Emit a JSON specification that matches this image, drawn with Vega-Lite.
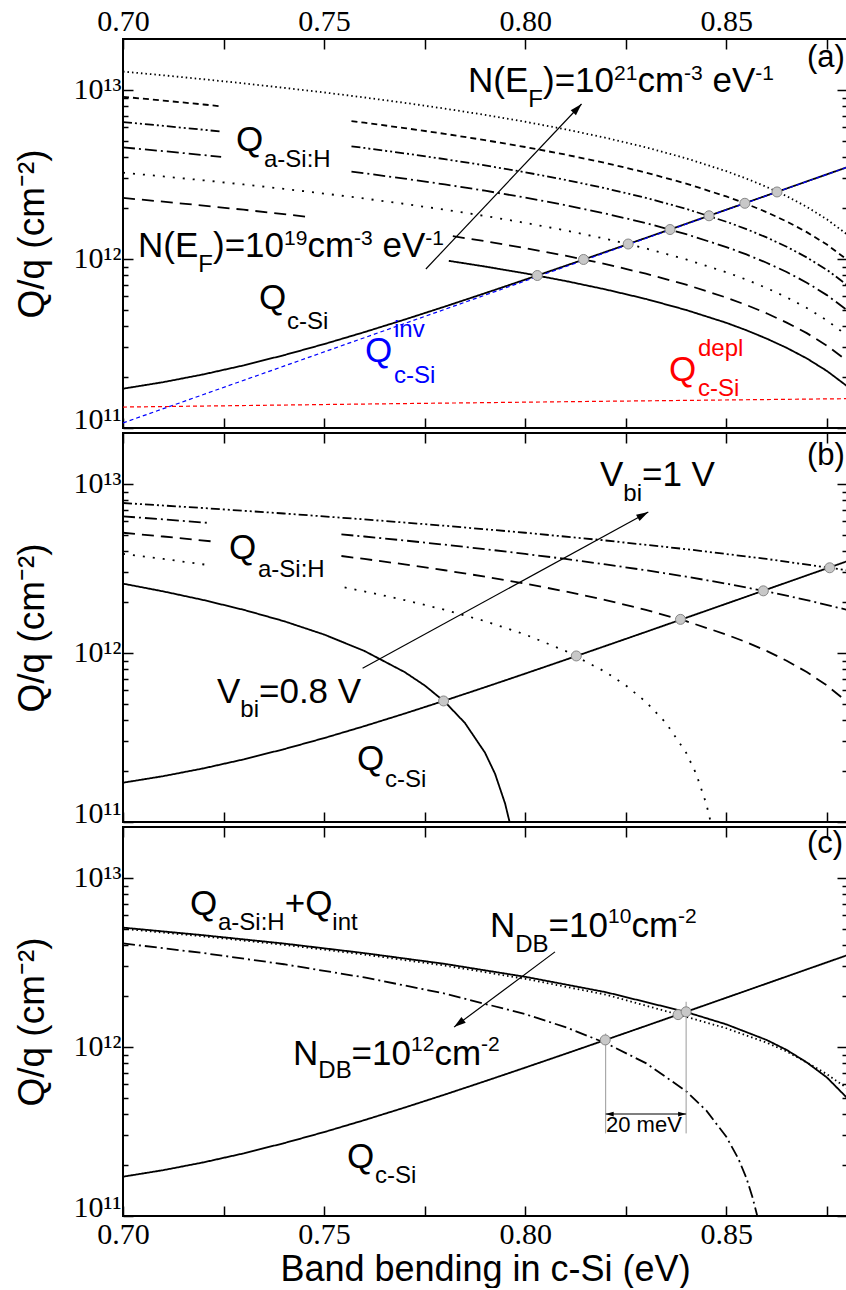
{
 "$schema": "https://vega.github.io/schema/vega-lite/v6.json",
 "padding": {"left": 12, "top": 5, "right": 0, "bottom": 0},
 "autosize": {"type": "pad"},
 "spacing": 5,
 "bounds": "flush",
 "config": {"view": {"stroke": "#000000", "strokeWidth": 2}, "font": "Liberation Sans"},
 "datasets": {
  "curves": [
   {"p":"all","g":"csi","s":"solid","x":0.70,"q":1.708e11},{"p":"all","g":"csi","s":"solid","x":0.71,"q":1.867e11},{"p":"all","g":"csi","s":"solid","x":0.72,"q":2.076e11},{"p":"all","g":"csi","s":"solid","x":0.73,"q":2.347e11},{"p":"all","g":"csi","s":"solid","x":0.74,"q":2.696e11},{"p":"all","g":"csi","s":"solid","x":0.75,"q":3.136e11},{"p":"all","g":"csi","s":"solid","x":0.76,"q":3.690e11},{"p":"all","g":"csi","s":"solid","x":0.77,"q":4.378e11},{"p":"all","g":"csi","s":"solid","x":0.78,"q":5.227e11},{"p":"all","g":"csi","s":"solid","x":0.79,"q":6.270e11},{"p":"all","g":"csi","s":"solid","x":0.80,"q":7.548e11},{"p":"all","g":"csi","s":"solid","x":0.81,"q":9.108e11},{"p":"all","g":"csi","s":"solid","x":0.82,"q":1.101e12},{"p":"all","g":"csi","s":"solid","x":0.83,"q":1.332e12},{"p":"all","g":"csi","s":"solid","x":0.84,"q":1.614e12},{"p":"all","g":"csi","s":"solid","x":0.85,"q":1.956e12},{"p":"all","g":"csi","s":"solid","x":0.86,"q":2.371e12},{"p":"all","g":"csi","s":"solid","x":0.87,"q":2.875e12},{"p":"all","g":"csi","s":"solid","x":0.88,"q":3.486e12},

   {"p":"a","g":"inv","s":"qd","c":"Qinv","x":0.70,"q":1.0715e11},{"p":"a","g":"inv","s":"qd","c":"Qinv","x":0.72,"q":1.578e11},{"p":"a","g":"inv","s":"qd","c":"Qinv","x":0.74,"q":2.323e11},{"p":"a","g":"inv","s":"qd","c":"Qinv","x":0.76,"q":3.420e11},{"p":"a","g":"inv","s":"qd","c":"Qinv","x":0.78,"q":5.035e11},{"p":"a","g":"inv","s":"qd","c":"Qinv","x":0.80,"q":7.413e11},{"p":"a","g":"inv","s":"qd","c":"Qinv","x":0.82,"q":1.0914e12},{"p":"a","g":"inv","s":"qd","c":"Qinv","x":0.84,"q":1.607e12},{"p":"a","g":"inv","s":"qd","c":"Qinv","x":0.86,"q":2.366e12},{"p":"a","g":"inv","s":"qd","c":"Qinv","x":0.88,"q":3.483e12},
   {"p":"a","g":"depl","s":"qd","c":"Qdepl","x":0.70,"q":1.330e11},{"p":"a","g":"depl","s":"qd","c":"Qdepl","x":0.76,"q":1.386e11},{"p":"a","g":"depl","s":"qd","c":"Qdepl","x":0.82,"q":1.4395e11},{"p":"a","g":"depl","s":"qd","c":"Qdepl","x":0.88,"q":1.491e11},

   {"p":"a","g":"k0","s":"solid","x":0.781,"q":9.745e11},{"p":"a","g":"k0","s":"solid","x":0.79,"q":9.02e11},{"p":"a","g":"k0","s":"solid","x":0.80,"q":8.215e11},{"p":"a","g":"k0","s":"solid","x":0.81,"q":7.41e11},{"p":"a","g":"k0","s":"solid","x":0.82,"q":6.60e11},{"p":"a","g":"k0","s":"solid","x":0.83,"q":5.80e11},{"p":"a","g":"k0","s":"solid","x":0.84,"q":4.99e11},{"p":"a","g":"k0","s":"solid","x":0.85,"q":4.19e11},{"p":"a","g":"k0","s":"solid","x":0.855,"q":3.785e11},{"p":"a","g":"k0","s":"solid","x":0.86,"q":3.38e11},{"p":"a","g":"k0","s":"solid","x":0.865,"q":2.98e11},{"p":"a","g":"k0","s":"solid","x":0.87,"q":2.58e11},{"p":"a","g":"k0","s":"solid","x":0.875,"q":2.175e11},{"p":"a","g":"k0","s":"solid","x":0.88,"q":1.77e11},

   {"p":"a","g":"k1a","s":"ldash","x":0.70,"q":2.296e12},{"p":"a","g":"k1a","s":"ldash","x":0.71,"q":2.182e12},{"p":"a","g":"k1a","s":"ldash","x":0.72,"q":2.068e12},{"p":"a","g":"k1a","s":"ldash","x":0.73,"q":1.955e12},{"p":"a","g":"k1a","s":"ldash","x":0.74,"q":1.841e12},{"p":"a","g":"k1a","s":"ldash","x":0.7458,"q":1.775e12},
   {"p":"a","g":"k1b","s":"ldash","x":0.782,"q":1.364e12},{"p":"a","g":"k1b","s":"ldash","x":0.79,"q":1.273e12},{"p":"a","g":"k1b","s":"ldash","x":0.80,"q":1.159e12},{"p":"a","g":"k1b","s":"ldash","x":0.81,"q":1.045e12},{"p":"a","g":"k1b","s":"ldash","x":0.82,"q":9.32e11},{"p":"a","g":"k1b","s":"ldash","x":0.83,"q":8.18e11},{"p":"a","g":"k1b","s":"ldash","x":0.84,"q":7.05e11},{"p":"a","g":"k1b","s":"ldash","x":0.85,"q":5.91e11},{"p":"a","g":"k1b","s":"ldash","x":0.855,"q":5.34e11},{"p":"a","g":"k1b","s":"ldash","x":0.86,"q":4.77e11},{"p":"a","g":"k1b","s":"ldash","x":0.865,"q":4.20e11},{"p":"a","g":"k1b","s":"ldash","x":0.87,"q":3.64e11},{"p":"a","g":"k1b","s":"ldash","x":0.875,"q":3.07e11},{"p":"a","g":"k1b","s":"ldash","x":0.88,"q":2.50e11},

   {"p":"a","g":"k2","s":"dot","x":0.70,"q":3.238e12},{"p":"a","g":"k2","s":"dot","x":0.71,"q":3.078e12},{"p":"a","g":"k2","s":"dot","x":0.72,"q":2.918e12},{"p":"a","g":"k2","s":"dot","x":0.73,"q":2.758e12},{"p":"a","g":"k2","s":"dot","x":0.74,"q":2.597e12},{"p":"a","g":"k2","s":"dot","x":0.75,"q":2.437e12},{"p":"a","g":"k2","s":"dot","x":0.76,"q":2.277e12},{"p":"a","g":"k2","s":"dot","x":0.77,"q":2.116e12},{"p":"a","g":"k2","s":"dot","x":0.78,"q":1.956e12},{"p":"a","g":"k2","s":"dot","x":0.79,"q":1.796e12},{"p":"a","g":"k2","s":"dot","x":0.80,"q":1.635e12},{"p":"a","g":"k2","s":"dot","x":0.81,"q":1.475e12},{"p":"a","g":"k2","s":"dot","x":0.82,"q":1.315e12},{"p":"a","g":"k2","s":"dot","x":0.83,"q":1.154e12},{"p":"a","g":"k2","s":"dot","x":0.84,"q":9.94e11},{"p":"a","g":"k2","s":"dot","x":0.85,"q":8.34e11},{"p":"a","g":"k2","s":"dot","x":0.855,"q":7.54e11},{"p":"a","g":"k2","s":"dot","x":0.86,"q":6.73e11},{"p":"a","g":"k2","s":"dot","x":0.865,"q":5.93e11},{"p":"a","g":"k2","s":"dot","x":0.87,"q":5.13e11},{"p":"a","g":"k2","s":"dot","x":0.875,"q":4.33e11},{"p":"a","g":"k2","s":"dot","x":0.88,"q":3.53e11},

   {"p":"a","g":"k3a","s":"dd","x":0.70,"q":4.569e12},{"p":"a","g":"k3a","s":"dd","x":0.71,"q":4.343e12},{"p":"a","g":"k3a","s":"dd","x":0.72,"q":4.117e12},{"p":"a","g":"k3a","s":"dd","x":0.7244,"q":4.017e12},
   {"p":"a","g":"k3b","s":"dd","x":0.7568,"q":3.284e12},{"p":"a","g":"k3b","s":"dd","x":0.76,"q":3.212e12},{"p":"a","g":"k3b","s":"dd","x":0.77,"q":2.986e12},{"p":"a","g":"k3b","s":"dd","x":0.78,"q":2.760e12},{"p":"a","g":"k3b","s":"dd","x":0.79,"q":2.533e12},{"p":"a","g":"k3b","s":"dd","x":0.80,"q":2.307e12},{"p":"a","g":"k3b","s":"dd","x":0.81,"q":2.081e12},{"p":"a","g":"k3b","s":"dd","x":0.82,"q":1.855e12},{"p":"a","g":"k3b","s":"dd","x":0.83,"q":1.629e12},{"p":"a","g":"k3b","s":"dd","x":0.84,"q":1.402e12},{"p":"a","g":"k3b","s":"dd","x":0.85,"q":1.176e12},{"p":"a","g":"k3b","s":"dd","x":0.855,"q":1.063e12},{"p":"a","g":"k3b","s":"dd","x":0.86,"q":9.50e11},{"p":"a","g":"k3b","s":"dd","x":0.865,"q":8.37e11},{"p":"a","g":"k3b","s":"dd","x":0.87,"q":7.24e11},{"p":"a","g":"k3b","s":"dd","x":0.875,"q":6.11e11},{"p":"a","g":"k3b","s":"dd","x":0.88,"q":4.98e11},

   {"p":"a","g":"k4a","s":"ddot","x":0.70,"q":6.448e12},{"p":"a","g":"k4a","s":"ddot","x":0.71,"q":6.129e12},{"p":"a","g":"k4a","s":"ddot","x":0.72,"q":5.809e12},{"p":"a","g":"k4a","s":"ddot","x":0.7244,"q":5.669e12},
   {"p":"a","g":"k4b","s":"ddot","x":0.7568,"q":4.635e12},{"p":"a","g":"k4b","s":"ddot","x":0.76,"q":4.533e12},{"p":"a","g":"k4b","s":"ddot","x":0.77,"q":4.213e12},{"p":"a","g":"k4b","s":"ddot","x":0.78,"q":3.894e12},{"p":"a","g":"k4b","s":"ddot","x":0.79,"q":3.575e12},{"p":"a","g":"k4b","s":"ddot","x":0.80,"q":3.256e12},{"p":"a","g":"k4b","s":"ddot","x":0.81,"q":2.937e12},{"p":"a","g":"k4b","s":"ddot","x":0.82,"q":2.617e12},{"p":"a","g":"k4b","s":"ddot","x":0.83,"q":2.298e12},{"p":"a","g":"k4b","s":"ddot","x":0.84,"q":1.979e12},{"p":"a","g":"k4b","s":"ddot","x":0.85,"q":1.660e12},{"p":"a","g":"k4b","s":"ddot","x":0.855,"q":1.500e12},{"p":"a","g":"k4b","s":"ddot","x":0.86,"q":1.341e12},{"p":"a","g":"k4b","s":"ddot","x":0.865,"q":1.181e12},{"p":"a","g":"k4b","s":"ddot","x":0.87,"q":1.021e12},{"p":"a","g":"k4b","s":"ddot","x":0.875,"q":8.62e11},{"p":"a","g":"k4b","s":"ddot","x":0.88,"q":7.02e11},

   {"p":"a","g":"k5a","s":"sdash","x":0.70,"q":9.098e12},{"p":"a","g":"k5a","s":"sdash","x":0.71,"q":8.648e12},{"p":"a","g":"k5a","s":"sdash","x":0.72,"q":8.197e12},{"p":"a","g":"k5a","s":"sdash","x":0.7244,"q":7.999e12},
   {"p":"a","g":"k5b","s":"sdash","x":0.7568,"q":6.540e12},{"p":"a","g":"k5b","s":"sdash","x":0.76,"q":6.396e12},{"p":"a","g":"k5b","s":"sdash","x":0.77,"q":5.945e12},{"p":"a","g":"k5b","s":"sdash","x":0.78,"q":5.495e12},{"p":"a","g":"k5b","s":"sdash","x":0.79,"q":5.044e12},{"p":"a","g":"k5b","s":"sdash","x":0.80,"q":4.594e12},{"p":"a","g":"k5b","s":"sdash","x":0.81,"q":4.144e12},{"p":"a","g":"k5b","s":"sdash","x":0.82,"q":3.693e12},{"p":"a","g":"k5b","s":"sdash","x":0.83,"q":3.243e12},{"p":"a","g":"k5b","s":"sdash","x":0.84,"q":2.792e12},{"p":"a","g":"k5b","s":"sdash","x":0.85,"q":2.342e12},{"p":"a","g":"k5b","s":"sdash","x":0.855,"q":2.117e12},{"p":"a","g":"k5b","s":"sdash","x":0.86,"q":1.892e12},{"p":"a","g":"k5b","s":"sdash","x":0.865,"q":1.666e12},{"p":"a","g":"k5b","s":"sdash","x":0.87,"q":1.441e12},{"p":"a","g":"k5b","s":"sdash","x":0.875,"q":1.216e12},{"p":"a","g":"k5b","s":"sdash","x":0.88,"q":9.91e11},

   {"p":"a","g":"k6","s":"fdot","x":0.70,"q":1.283e13},{"p":"a","g":"k6","s":"fdot","x":0.71,"q":1.220e13},{"p":"a","g":"k6","s":"fdot","x":0.72,"q":1.156e13},{"p":"a","g":"k6","s":"fdot","x":0.73,"q":1.093e13},{"p":"a","g":"k6","s":"fdot","x":0.74,"q":1.029e13},{"p":"a","g":"k6","s":"fdot","x":0.75,"q":9.657e12},{"p":"a","g":"k6","s":"fdot","x":0.76,"q":9.021e12},{"p":"a","g":"k6","s":"fdot","x":0.77,"q":8.386e12},{"p":"a","g":"k6","s":"fdot","x":0.78,"q":7.751e12},{"p":"a","g":"k6","s":"fdot","x":0.79,"q":7.115e12},{"p":"a","g":"k6","s":"fdot","x":0.80,"q":6.480e12},{"p":"a","g":"k6","s":"fdot","x":0.81,"q":5.845e12},{"p":"a","g":"k6","s":"fdot","x":0.82,"q":5.209e12},{"p":"a","g":"k6","s":"fdot","x":0.83,"q":4.574e12},{"p":"a","g":"k6","s":"fdot","x":0.84,"q":3.939e12},{"p":"a","g":"k6","s":"fdot","x":0.85,"q":3.304e12},{"p":"a","g":"k6","s":"fdot","x":0.855,"q":2.986e12},{"p":"a","g":"k6","s":"fdot","x":0.86,"q":2.668e12},{"p":"a","g":"k6","s":"fdot","x":0.865,"q":2.351e12},{"p":"a","g":"k6","s":"fdot","x":0.87,"q":2.033e12},{"p":"a","g":"k6","s":"fdot","x":0.875,"q":1.715e12},{"p":"a","g":"k6","s":"fdot","x":0.88,"q":1.398e12},

   {"p":"b","g":"v80","s":"solid","x":0.70,"q":2.570e12},{"p":"b","g":"v80","s":"solid","x":0.71,"q":2.313e12},{"p":"b","g":"v80","s":"solid","x":0.72,"q":2.056e12},{"p":"b","g":"v80","s":"solid","x":0.73,"q":1.799e12},{"p":"b","g":"v80","s":"solid","x":0.74,"q":1.542e12},{"p":"b","g":"v80","s":"solid","x":0.75,"q":1.285e12},{"p":"b","g":"v80","s":"solid","x":0.76,"q":1.028e12},{"p":"b","g":"v80","s":"solid","x":0.77,"q":7.71e11},{"p":"b","g":"v80","s":"solid","x":0.775,"q":6.425e11},{"p":"b","g":"v80","s":"solid","x":0.78,"q":5.14e11},{"p":"b","g":"v80","s":"solid","x":0.785,"q":3.855e11},{"p":"b","g":"v80","s":"solid","x":0.79,"q":2.57e11},{"p":"b","g":"v80","s":"solid","x":0.7925,"q":1.928e11},{"p":"b","g":"v80","s":"solid","x":0.795,"q":1.285e11},{"p":"b","g":"v80","s":"solid","x":0.7961,"q":1.002e11},

   {"p":"b","g":"v85a","s":"dot","x":0.70,"q":3.855e12},{"p":"b","g":"v85a","s":"dot","x":0.71,"q":3.598e12},{"p":"b","g":"v85a","s":"dot","x":0.7211,"q":3.313e12},
   {"p":"b","g":"v85b","s":"dot","x":0.7551,"q":2.439e12},{"p":"b","g":"v85b","s":"dot","x":0.76,"q":2.313e12},{"p":"b","g":"v85b","s":"dot","x":0.77,"q":2.056e12},{"p":"b","g":"v85b","s":"dot","x":0.78,"q":1.799e12},{"p":"b","g":"v85b","s":"dot","x":0.79,"q":1.542e12},{"p":"b","g":"v85b","s":"dot","x":0.80,"q":1.285e12},{"p":"b","g":"v85b","s":"dot","x":0.81,"q":1.028e12},{"p":"b","g":"v85b","s":"dot","x":0.82,"q":7.71e11},{"p":"b","g":"v85b","s":"dot","x":0.825,"q":6.425e11},{"p":"b","g":"v85b","s":"dot","x":0.83,"q":5.14e11},{"p":"b","g":"v85b","s":"dot","x":0.835,"q":3.855e11},{"p":"b","g":"v85b","s":"dot","x":0.84,"q":2.57e11},{"p":"b","g":"v85b","s":"dot","x":0.8425,"q":1.928e11},{"p":"b","g":"v85b","s":"dot","x":0.845,"q":1.285e11},{"p":"b","g":"v85b","s":"dot","x":0.8461,"q":1.002e11},

   {"p":"b","g":"v90a","s":"ldash","x":0.70,"q":5.14e12},{"p":"b","g":"v90a","s":"ldash","x":0.71,"q":4.883e12},{"p":"b","g":"v90a","s":"ldash","x":0.7228,"q":4.554e12},
   {"p":"b","g":"v90b","s":"ldash","x":0.7543,"q":3.745e12},{"p":"b","g":"v90b","s":"ldash","x":0.76,"q":3.598e12},{"p":"b","g":"v90b","s":"ldash","x":0.77,"q":3.341e12},{"p":"b","g":"v90b","s":"ldash","x":0.78,"q":3.084e12},{"p":"b","g":"v90b","s":"ldash","x":0.79,"q":2.827e12},{"p":"b","g":"v90b","s":"ldash","x":0.80,"q":2.570e12},{"p":"b","g":"v90b","s":"ldash","x":0.81,"q":2.313e12},{"p":"b","g":"v90b","s":"ldash","x":0.82,"q":2.056e12},{"p":"b","g":"v90b","s":"ldash","x":0.83,"q":1.799e12},{"p":"b","g":"v90b","s":"ldash","x":0.84,"q":1.542e12},{"p":"b","g":"v90b","s":"ldash","x":0.85,"q":1.285e12},{"p":"b","g":"v90b","s":"ldash","x":0.855,"q":1.157e12},{"p":"b","g":"v90b","s":"ldash","x":0.86,"q":1.028e12},{"p":"b","g":"v90b","s":"ldash","x":0.865,"q":8.995e11},{"p":"b","g":"v90b","s":"ldash","x":0.87,"q":7.71e11},{"p":"b","g":"v90b","s":"ldash","x":0.875,"q":6.425e11},{"p":"b","g":"v90b","s":"ldash","x":0.88,"q":5.14e11},

   {"p":"b","g":"v95a","s":"dd","x":0.70,"q":6.425e12},{"p":"b","g":"v95a","s":"dd","x":0.71,"q":6.168e12},{"p":"b","g":"v95a","s":"dd","x":0.7215,"q":5.873e12},
   {"p":"b","g":"v95b","s":"dd","x":0.7543,"q":5.027e12},{"p":"b","g":"v95b","s":"dd","x":0.76,"q":4.883e12},{"p":"b","g":"v95b","s":"dd","x":0.77,"q":4.626e12},{"p":"b","g":"v95b","s":"dd","x":0.78,"q":4.369e12},{"p":"b","g":"v95b","s":"dd","x":0.79,"q":4.112e12},{"p":"b","g":"v95b","s":"dd","x":0.80,"q":3.855e12},{"p":"b","g":"v95b","s":"dd","x":0.81,"q":3.598e12},{"p":"b","g":"v95b","s":"dd","x":0.82,"q":3.341e12},{"p":"b","g":"v95b","s":"dd","x":0.83,"q":3.084e12},{"p":"b","g":"v95b","s":"dd","x":0.84,"q":2.827e12},{"p":"b","g":"v95b","s":"dd","x":0.85,"q":2.570e12},{"p":"b","g":"v95b","s":"dd","x":0.86,"q":2.313e12},{"p":"b","g":"v95b","s":"dd","x":0.87,"q":2.056e12},{"p":"b","g":"v95b","s":"dd","x":0.88,"q":1.799e12},

   {"p":"b","g":"v100","s":"ddot","x":0.70,"q":7.71e12},{"p":"b","g":"v100","s":"ddot","x":0.72,"q":7.196e12},{"p":"b","g":"v100","s":"ddot","x":0.74,"q":6.682e12},{"p":"b","g":"v100","s":"ddot","x":0.76,"q":6.168e12},{"p":"b","g":"v100","s":"ddot","x":0.78,"q":5.654e12},{"p":"b","g":"v100","s":"ddot","x":0.80,"q":5.14e12},{"p":"b","g":"v100","s":"ddot","x":0.82,"q":4.626e12},{"p":"b","g":"v100","s":"ddot","x":0.84,"q":4.112e12},{"p":"b","g":"v100","s":"ddot","x":0.86,"q":3.598e12},{"p":"b","g":"v100","s":"ddot","x":0.88,"q":3.084e12},

   {"p":"c","g":"nd10","s":"solid","x":0.70,"q":5.08e12},{"p":"c","g":"nd10","s":"solid","x":0.72,"q":4.58e12},{"p":"c","g":"nd10","s":"solid","x":0.74,"q":4.09e12},{"p":"c","g":"nd10","s":"solid","x":0.76,"q":3.59e12},{"p":"c","g":"nd10","s":"solid","x":0.78,"q":3.10e12},{"p":"c","g":"nd10","s":"solid","x":0.80,"q":2.60e12},{"p":"c","g":"nd10","s":"solid","x":0.82,"q":2.11e12},{"p":"c","g":"nd10","s":"solid","x":0.84,"q":1.61e12},{"p":"c","g":"nd10","s":"solid","x":0.85,"q":1.36e12},{"p":"c","g":"nd10","s":"solid","x":0.86,"q":1.10e12},{"p":"c","g":"nd10","s":"solid","x":0.865,"q":9.6e11},{"p":"c","g":"nd10","s":"solid","x":0.87,"q":8.1e11},{"p":"c","g":"nd10","s":"solid","x":0.875,"q":6.6e11},{"p":"c","g":"nd10","s":"solid","x":0.88,"q":5.0e11},

   {"p":"c","g":"nd11","s":"dotc","x":0.70,"q":5.0e12},{"p":"c","g":"nd11","s":"dotc","x":0.72,"q":4.51e12},{"p":"c","g":"nd11","s":"dotc","x":0.74,"q":4.02e12},{"p":"c","g":"nd11","s":"dotc","x":0.76,"q":3.52e12},{"p":"c","g":"nd11","s":"dotc","x":0.78,"q":3.03e12},{"p":"c","g":"nd11","s":"dotc","x":0.80,"q":2.53e12},{"p":"c","g":"nd11","s":"dotc","x":0.82,"q":2.04e12},{"p":"c","g":"nd11","s":"dotc","x":0.838,"q":1.556e12},{"p":"c","g":"nd11","s":"dotc","x":0.85,"q":1.29e12},{"p":"c","g":"nd11","s":"dotc","x":0.86,"q":1.06e12},{"p":"c","g":"nd11","s":"dotc","x":0.865,"q":9.4e11},{"p":"c","g":"nd11","s":"dotc","x":0.87,"q":8.1e11},{"p":"c","g":"nd11","s":"dotc","x":0.875,"q":6.9e11},{"p":"c","g":"nd11","s":"dotc","x":0.88,"q":5.7e11},

   {"p":"c","g":"nd12","s":"dd","x":0.70,"q":4.10e12},{"p":"c","g":"nd12","s":"dd","x":0.72,"q":3.592e12},{"p":"c","g":"nd12","s":"dd","x":0.74,"q":3.085e12},{"p":"c","g":"nd12","s":"dd","x":0.76,"q":2.578e12},{"p":"c","g":"nd12","s":"dd","x":0.78,"q":2.070e12},{"p":"c","g":"nd12","s":"dd","x":0.80,"q":1.563e12},{"p":"c","g":"nd12","s":"dd","x":0.81,"q":1.309e12},{"p":"c","g":"nd12","s":"dd","x":0.82,"q":1.055e12},{"p":"c","g":"nd12","s":"dd","x":0.83,"q":8.02e11},{"p":"c","g":"nd12","s":"dd","x":0.84,"q":5.48e11},{"p":"c","g":"nd12","s":"dd","x":0.845,"q":4.21e11},{"p":"c","g":"nd12","s":"dd","x":0.85,"q":2.94e11},{"p":"c","g":"nd12","s":"dd","x":0.853,"q":2.18e11},{"p":"c","g":"nd12","s":"dd","x":0.855,"q":1.674e11},{"p":"c","g":"nd12","s":"dd","x":0.8565,"q":1.29e11},{"p":"c","g":"nd12","s":"dd","x":0.8577,"q":1.0e11}
  ],
  "dots": [
   {"p":"a","x":0.803,"q":7.98e11},{"p":"a","x":0.8145,"q":9.93e11},{"p":"a","x":0.8256,"q":1.2256e12},{"p":"a","x":0.836,"q":1.493e12},{"p":"a","x":0.8457,"q":1.80e12},{"p":"a","x":0.8546,"q":2.134e12},{"p":"a","x":0.8626,"q":2.49e12},
   {"p":"b","x":0.7797,"q":5.2e11},{"p":"b","x":0.8127,"q":9.6e11},{"p":"b","x":0.8386,"q":1.58e12},{"p":"b","x":0.8592,"q":2.33e12},{"p":"b","x":0.8757,"q":3.19e12},
   {"p":"c","x":0.8199,"q":1.10e12},{"p":"c","x":0.838,"q":1.553e12},{"p":"c","x":0.840,"q":1.614e12}
  ],
  "rules": [
   {"p":"a","id":"arr","x":0.7753,"q":8.72e11,"x2":0.8140,"q2":8.25e12},
   {"p":"b","id":"arr","x":0.75957,"q":8.11e11,"x2":0.8306,"q2":6.82e12},
   {"p":"c","id":"arr","x":0.8074,"q":3.65e12,"x2":0.7823,"q2":1.31e12},
   {"p":"c","id":"guide","x":0.82,"q":1.2e12,"x2":0.82,"q2":3.08e11},
   {"p":"c","id":"guide","x":0.84,"q":1.85e12,"x2":0.84,"q2":3.08e11},
   {"p":"c","id":"meV","x":0.82,"q":4.01e11,"x2":0.84,"q2":4.01e11}
  ],
  "heads": [
   {"p":"a","id":"arr","x":0.8140,"q":8.25e12},
   {"p":"b","id":"arr","x":0.8306,"q":6.82e12},
   {"p":"c","id":"arr","x":0.7823,"q":1.31e12},
   {"p":"c","id":"meVL","x":0.82,"q":4.01e11},
   {"p":"c","id":"meVR","x":0.84,"q":4.01e11}
  ],
  "texts": [
   {"p":"a","x":0.87006,"q":1.357e13,"t":"(a)","k":"lab","c":"plain"},
   {"p":"a","x":0.78577,"q":9.68e12,"t":"N(E","k":"main","c":"plain"},
   {"p":"a","x":0.80077,"q":7.89e12,"t":"F","k":"sub","c":"plain"},
   {"p":"a","x":0.80442,"q":9.68e12,"t":")=10","k":"main","c":"plain"},
   {"p":"a","x":0.82207,"q":1.140e13,"t":"21","k":"sup","c":"plain"},
   {"p":"a","x":0.82789,"q":9.68e12,"t":"cm","k":"main","c":"plain"},
   {"p":"a","x":0.8395,"q":1.140e13,"t":"-3","k":"sup","c":"plain"},
   {"p":"a","x":0.84657,"q":9.68e12,"t":"eV","k":"main","c":"plain"},
   {"p":"a","x":0.8572,"q":1.140e13,"t":"-1","k":"sup","c":"plain"},
   {"p":"a","x":0.70373,"q":1.0228e12,"t":"N(E","k":"main","c":"plain"},
   {"p":"a","x":0.71872,"q":8.34e11,"t":"F","k":"sub","c":"plain"},
   {"p":"a","x":0.72238,"q":1.0228e12,"t":")=10","k":"main","c":"plain"},
   {"p":"a","x":0.74003,"q":1.204e12,"t":"19","k":"sup","c":"plain"},
   {"p":"a","x":0.74585,"q":1.0228e12,"t":"cm","k":"main","c":"plain"},
   {"p":"a","x":0.75746,"q":1.204e12,"t":"-3","k":"sup","c":"plain"},
   {"p":"a","x":0.76453,"q":1.0228e12,"t":"eV","k":"main","c":"plain"},
   {"p":"a","x":0.77516,"q":1.204e12,"t":"-1","k":"sup","c":"plain"},
   {"p":"a","x":0.72809,"q":4.368e12,"t":"Q","k":"main","c":"plain"},
   {"p":"a","x":0.73506,"q":3.484e12,"t":"a-Si:H","k":"sub","c":"plain"},
   {"p":"a","x":0.73381,"q":5.057e11,"t":"Q","k":"main","c":"plain"},
   {"p":"a","x":0.74077,"q":3.852e11,"t":"c-Si","k":"sub","c":"plain"},
   {"p":"a","x":0.76017,"q":2.457e11,"t":"Q","k":"main","c":"Qinv"},
   {"p":"a","x":0.76738,"q":3.454e11,"t":"inv","k":"sub","c":"Qinv"},
   {"p":"a","x":0.76738,"q":1.846e11,"t":"c-Si","k":"sub","c":"Qinv"},
   {"p":"a","x":0.83575,"q":1.897e11,"t":"Q","k":"main","c":"Qdepl"},
   {"p":"a","x":0.84296,"q":2.667e11,"t":"depl","k":"sub","c":"Qdepl"},
   {"p":"a","x":0.84296,"q":1.547e11,"t":"c-Si","k":"sub","c":"Qdepl"},

   {"p":"b","x":0.87006,"q":1.299e13,"t":"(b)","k":"lab","c":"plain"},
   {"p":"b","x":0.81859,"q":9.72e12,"t":"V","k":"main","c":"plain"},
   {"p":"b","x":0.82439,"q":7.92e12,"t":"bi","k":"sub","c":"plain"},
   {"p":"b","x":0.82903,"q":9.72e12,"t":"=1 V","k":"main","c":"plain"},
   {"p":"b","x":0.72337,"q":5.037e11,"t":"V","k":"main","c":"plain"},
   {"p":"b","x":0.72916,"q":4.197e11,"t":"bi","k":"sub","c":"plain"},
   {"p":"b","x":0.73381,"q":5.037e11,"t":"=0.8 V","k":"main","c":"plain"},
   {"p":"b","x":0.72635,"q":3.571e12,"t":"Q","k":"main","c":"plain"},
   {"p":"b","x":0.73356,"q":2.814e12,"t":"a-Si:H","k":"sub","c":"plain"},
   {"p":"b","x":0.75818,"q":2.030e11,"t":"Q","k":"main","c":"plain"},
   {"p":"b","x":0.76514,"q":1.618e11,"t":"c-Si","k":"sub","c":"plain"},

   {"p":"c","x":0.87006,"q":1.398e13,"t":"(c)","k":"lab","c":"plain"},
   {"p":"c","x":0.71666,"q":6.034e12,"t":"Q","k":"main","c":"plain"},
   {"p":"c","x":0.72362,"q":4.918e12,"t":"a-Si:H","k":"sub","c":"plain"},
   {"p":"c","x":0.74020,"q":6.034e12,"t":"+Q","k":"main","c":"plain"},
   {"p":"c","x":0.75204,"q":4.918e12,"t":"int","k":"sub","c":"plain"},
   {"p":"c","x":0.79124,"q":4.453e12,"t":"N","k":"main","c":"plain"},
   {"p":"c","x":0.79753,"q":3.659e12,"t":"DB","k":"sub","c":"plain"},
   {"p":"c","x":0.80581,"q":4.453e12,"t":"=10","k":"main","c":"plain"},
   {"p":"c","x":0.82058,"q":5.41e12,"t":"10","k":"sup","c":"plain"},
   {"p":"c","x":0.82640,"q":4.453e12,"t":"cm","k":"main","c":"plain"},
   {"p":"c","x":0.83801,"q":5.41e12,"t":"-2","k":"sup","c":"plain"},
   {"p":"c","x":0.74227,"q":7.82e11,"t":"N","k":"main","c":"plain"},
   {"p":"c","x":0.74856,"q":6.525e11,"t":"DB","k":"sub","c":"plain"},
   {"p":"c","x":0.75683,"q":7.82e11,"t":"=10","k":"main","c":"plain"},
   {"p":"c","x":0.7716,"q":9.46e11,"t":"12","k":"sup","c":"plain"},
   {"p":"c","x":0.77742,"q":7.82e11,"t":"cm","k":"main","c":"plain"},
   {"p":"c","x":0.78903,"q":9.46e11,"t":"-2","k":"sup","c":"plain"},
   {"p":"c","x":0.75569,"q":1.915e11,"t":"Q","k":"main","c":"plain"},
   {"p":"c","x":0.76265,"q":1.561e11,"t":"c-Si","k":"sub","c":"plain"},
   {"p":"c","x":0.82008,"q":3.152e11,"t":"20 meV","k":"note","c":"plain"}
  ]
 },
 "vconcat": [
  {
   "width": 724, "height": 389,
   "resolve": {"axis": {"x": "independent", "y": "independent"}},
   "layer": [
    {
     "data": {"name": "curves"},
     "transform": [{"filter": "(datum.p == 'a' || datum.p == 'all') && datum.s != 'qd'"}],
     "mark": {"type": "line", "strokeWidth": 1.8, "color": "black"},
     "encoding": {
      "x": {"field": "x", "type": "quantitative", "scale": {"domain": [0.7, 0.88], "nice": false, "zero": false},
            "axis": {"orient": "bottom", "values": [0.7,0.725,0.75,0.775,0.8,0.825,0.85,0.875], "labels": false, "title": null, "domain": false, "grid": false, "tickSize": -10, "tickColor": "black", "tickWidth": 1.5}},
      "y": {"field": "q", "type": "quantitative", "scale": {"type": "log", "domain": [1e11, 2e13], "nice": false},
            "axis": {"orient": "left", "values": [1e11,1e12,1e13], "domain": false, "grid": false, "tickSize": -10, "tickColor": "black", "tickWidth": 1.5,
                     "labelExpr": "datum.value > 5e12 ? '10¹³' : datum.value > 5e11 ? '10¹²' : '10¹¹'", "labelFont": "Liberation Serif", "labelFontSize": 30, "labelColor": "black", "labelPadding": 12, "labelFlush": false, "labelOverlap": false,
                     "labelBaseline": {"condition": {"test": "datum.value < 2e11", "value": "alphabetic"}, "value": "middle"},
                     "title": "Q/q (cm⁻²)", "titleFont": "Liberation Sans", "titleFontSize": 37, "titleFontWeight": "normal", "titleColor": "black", "titlePadding": 22}},
      "detail": {"field": "g"},
      "strokeDash": {"field": "s", "type": "nominal", "legend": null,
                     "scale": {"domain": ["solid","fdot","sdash","ddot","dd","dot","ldash","dotc","qd"], "range": [[1,0],[1.5,3],[6,4],[9,3,2,3,2,3],[12,4,2,4],[2,8],[12,7],[1.5,3],[4,3]]}}
     }
    },
    {
     "data": {"name": "curves"},
     "transform": [{"filter": "datum.p == 'a' && datum.s == 'qd'"}],
     "mark": {"type": "line", "strokeWidth": 1.2},
     "encoding": {
      "x": {"field": "x", "type": "quantitative", "scale": {"domain": [0.7, 0.88], "nice": false, "zero": false}, "axis": null},
      "y": {"field": "q", "type": "quantitative", "scale": {"type": "log", "domain": [1e11, 2e13], "nice": false}, "axis": null},
      "detail": {"field": "g"},
      "color": {"field": "c", "type": "nominal", "legend": null, "scale": {"domain": ["plain","Qinv","Qdepl"], "range": ["#000000","#0000ff","#ff0000"]}},
      "strokeDash": {"field": "s", "type": "nominal", "legend": null,
                     "scale": {"domain": ["solid","fdot","sdash","ddot","dd","dot","ldash","dotc","qd"], "range": [[1,0],[1.5,3],[6,4],[9,3,2,3,2,3],[12,4,2,4],[2,8],[12,7],[1.5,3],[4,3]]}}
     }
    },
    {
     "data": {"name": "rules"},
     "transform": [{"filter": "datum.p == 'a'"}],
     "mark": {"type": "rule", "color": "black", "strokeWidth": 1.2},
     "encoding": {
      "x": {"field": "x", "type": "quantitative", "scale": {"domain": [0.7, 0.88], "nice": false, "zero": false}, "axis": null},
      "x2": {"field": "x2"},
      "y": {"field": "q", "type": "quantitative", "scale": {"type": "log", "domain": [1e11, 2e13], "nice": false},
            "axis": {"orient": "right", "values": [1e11,1e12,1e13], "labels": false, "title": null, "domain": false, "grid": false, "tickSize": -10, "tickColor": "black", "tickWidth": 1.5}},
      "y2": {"field": "q2"}
     }
    },
    {
     "data": {"name": "heads"},
     "transform": [{"filter": "datum.p == 'a'"}],
     "mark": {"type": "point", "shape": "M0,0L0.6,2L-0.6,2Z", "angle": 43, "size": 144, "filled": true, "color": "black", "opacity": 1},
     "encoding": {
      "x": {"field": "x", "type": "quantitative", "scale": {"domain": [0.7, 0.88], "nice": false, "zero": false}, "axis": null},
      "y": {"field": "q", "type": "quantitative", "scale": {"type": "log", "domain": [1e11, 2e13], "nice": false}, "axis": null}
     }
    },
    {
     "data": {"name": "dots"},
     "transform": [{"filter": "datum.p == 'a'"}],
     "mark": {"type": "point", "filled": true, "color": "#c8c8c8", "stroke": "#888888", "strokeWidth": 1, "size": 100, "opacity": 1},
     "encoding": {
      "x": {"field": "x", "type": "quantitative", "scale": {"domain": [0.7, 0.88], "nice": false, "zero": false},
            "axis": {"orient": "top", "values": [0.7,0.725,0.75,0.775,0.8,0.825,0.85,0.875], "title": null, "domain": false, "grid": false, "tickSize": -10, "tickColor": "black", "tickWidth": 1.5,
                     "labelExpr": "abs(datum.value*20 - round(datum.value*20)) < 0.01 ? format(datum.value, '.2f') : ''", "labelFont": "Liberation Serif", "labelFontSize": 30, "labelColor": "black", "labelPadding": 13, "labelFlush": false, "labelOverlap": false}},
      "y": {"field": "q", "type": "quantitative", "scale": {"type": "log", "domain": [1e11, 2e13], "nice": false},
            "axis": {"orient": "left", "values": [2e11,3e11,4e11,5e11,6e11,7e11,8e11,9e11,2e12,3e12,4e12,5e12,6e12,7e12,8e12,9e12], "labels": false, "title": null, "domain": false, "grid": false, "tickSize": -5, "tickColor": "black", "tickWidth": 1.5}}
     }
    },
    {
     "data": {"name": "texts"},
     "transform": [{"filter": "datum.p == 'a' && datum.k == 'main'"}],
     "mark": {"type": "text", "align": "left", "baseline": "alphabetic", "font": "Liberation Sans", "fontSize": 35},
     "encoding": {
      "x": {"field": "x", "type": "quantitative", "scale": {"domain": [0.7, 0.88], "nice": false, "zero": false}, "axis": null},
      "y": {"field": "q", "type": "quantitative", "scale": {"type": "log", "domain": [1e11, 2e13], "nice": false},
            "axis": {"orient": "right", "values": [2e11,3e11,4e11,5e11,6e11,7e11,8e11,9e11,2e12,3e12,4e12,5e12,6e12,7e12,8e12,9e12], "labels": false, "title": null, "domain": false, "grid": false, "tickSize": -5, "tickColor": "black", "tickWidth": 1.5}},
      "text": {"field": "t"},
      "color": {"field": "c", "type": "nominal", "legend": null, "scale": {"domain": ["plain","Qinv","Qdepl"], "range": ["#000000","#0000ff","#ff0000"]}}
     }
    },
    {
     "data": {"name": "texts"},
     "transform": [{"filter": "datum.p == 'a' && datum.k == 'sub'"}],
     "mark": {"type": "text", "align": "left", "baseline": "alphabetic", "font": "Liberation Sans", "fontSize": 24},
     "encoding": {
      "x": {"field": "x", "type": "quantitative", "scale": {"domain": [0.7, 0.88], "nice": false, "zero": false}, "axis": null},
      "y": {"field": "q", "type": "quantitative", "scale": {"type": "log", "domain": [1e11, 2e13], "nice": false}, "axis": null},
      "text": {"field": "t"},
      "color": {"field": "c", "type": "nominal", "legend": null, "scale": {"domain": ["plain","Qinv","Qdepl"], "range": ["#000000","#0000ff","#ff0000"]}}
     }
    },
    {
     "data": {"name": "texts"},
     "transform": [{"filter": "datum.p == 'a' && datum.k == 'sup'"}],
     "mark": {"type": "text", "align": "left", "baseline": "alphabetic", "font": "Liberation Sans", "fontSize": 21, "color": "black"},
     "encoding": {
      "x": {"field": "x", "type": "quantitative", "scale": {"domain": [0.7, 0.88], "nice": false, "zero": false}, "axis": null},
      "y": {"field": "q", "type": "quantitative", "scale": {"type": "log", "domain": [1e11, 2e13], "nice": false}, "axis": null},
      "text": {"field": "t"}
     }
    },
    {
     "data": {"name": "texts"},
     "transform": [{"filter": "datum.p == 'a' && datum.k == 'lab'"}],
     "mark": {"type": "text", "align": "left", "baseline": "alphabetic", "font": "Liberation Sans", "fontSize": 31, "color": "black"},
     "encoding": {
      "x": {"field": "x", "type": "quantitative", "scale": {"domain": [0.7, 0.88], "nice": false, "zero": false}, "axis": null},
      "y": {"field": "q", "type": "quantitative", "scale": {"type": "log", "domain": [1e11, 2e13], "nice": false}, "axis": null},
      "text": {"field": "t"}
     }
    }
   ]
  },
  {
   "width": 724, "height": 389,
   "resolve": {"axis": {"x": "independent", "y": "independent"}},
   "layer": [
    {
     "data": {"name": "curves"},
     "transform": [{"filter": "(datum.p == 'b' || datum.p == 'all') && datum.s != 'qd'"}],
     "mark": {"type": "line", "strokeWidth": 1.8, "color": "black"},
     "encoding": {
      "x": {"field": "x", "type": "quantitative", "scale": {"domain": [0.7, 0.88], "nice": false, "zero": false},
            "axis": {"orient": "bottom", "values": [0.7,0.725,0.75,0.775,0.8,0.825,0.85,0.875], "labels": false, "title": null, "domain": false, "grid": false, "tickSize": -10, "tickColor": "black", "tickWidth": 1.5}},
      "y": {"field": "q", "type": "quantitative", "scale": {"type": "log", "domain": [1e11, 2e13], "nice": false},
            "axis": {"orient": "left", "values": [1e11,1e12,1e13], "domain": false, "grid": false, "tickSize": -10, "tickColor": "black", "tickWidth": 1.5,
                     "labelExpr": "datum.value > 5e12 ? '10¹³' : datum.value > 5e11 ? '10¹²' : '10¹¹'", "labelFont": "Liberation Serif", "labelFontSize": 30, "labelColor": "black", "labelPadding": 12, "labelFlush": false, "labelOverlap": false,
                     "labelBaseline": {"condition": {"test": "datum.value < 2e11", "value": "alphabetic"}, "value": "middle"},
                     "title": "Q/q (cm⁻²)", "titleFont": "Liberation Sans", "titleFontSize": 37, "titleFontWeight": "normal", "titleColor": "black", "titlePadding": 22}},
      "detail": {"field": "g"},
      "strokeDash": {"field": "s", "type": "nominal", "legend": null,
                     "scale": {"domain": ["solid","fdot","sdash","ddot","dd","dot","ldash","dotc","qd"], "range": [[1,0],[1.5,3],[6,4],[9,3,2,3,2,3],[12,4,2,4],[2,8],[12,7],[1.5,3],[4,3]]}}
     }
    },
    {
     "data": {"name": "rules"},
     "transform": [{"filter": "datum.p == 'b'"}],
     "mark": {"type": "rule", "color": "black", "strokeWidth": 1.2},
     "encoding": {
      "x": {"field": "x", "type": "quantitative", "scale": {"domain": [0.7, 0.88], "nice": false, "zero": false}, "axis": null},
      "x2": {"field": "x2"},
      "y": {"field": "q", "type": "quantitative", "scale": {"type": "log", "domain": [1e11, 2e13], "nice": false},
            "axis": {"orient": "right", "values": [1e11,1e12,1e13], "labels": false, "title": null, "domain": false, "grid": false, "tickSize": -10, "tickColor": "black", "tickWidth": 1.5}},
      "y2": {"field": "q2"}
     }
    },
    {
     "data": {"name": "heads"},
     "transform": [{"filter": "datum.p == 'b'"}],
     "mark": {"type": "point", "shape": "M0,0L0.6,2L-0.6,2Z", "angle": 61, "size": 144, "filled": true, "color": "black", "opacity": 1},
     "encoding": {
      "x": {"field": "x", "type": "quantitative", "scale": {"domain": [0.7, 0.88], "nice": false, "zero": false}, "axis": null},
      "y": {"field": "q", "type": "quantitative", "scale": {"type": "log", "domain": [1e11, 2e13], "nice": false}, "axis": null}
     }
    },
    {
     "data": {"name": "dots"},
     "transform": [{"filter": "datum.p == 'b'"}],
     "mark": {"type": "point", "filled": true, "color": "#c8c8c8", "stroke": "#888888", "strokeWidth": 1, "size": 100, "opacity": 1},
     "encoding": {
      "x": {"field": "x", "type": "quantitative", "scale": {"domain": [0.7, 0.88], "nice": false, "zero": false},
            "axis": {"orient": "top", "values": [0.7,0.725,0.75,0.775,0.8,0.825,0.85,0.875], "labels": false, "title": null, "domain": false, "grid": false, "tickSize": -10, "tickColor": "black", "tickWidth": 1.5}},
      "y": {"field": "q", "type": "quantitative", "scale": {"type": "log", "domain": [1e11, 2e13], "nice": false},
            "axis": {"orient": "left", "values": [2e11,3e11,4e11,5e11,6e11,7e11,8e11,9e11,2e12,3e12,4e12,5e12,6e12,7e12,8e12,9e12], "labels": false, "title": null, "domain": false, "grid": false, "tickSize": -5, "tickColor": "black", "tickWidth": 1.5}}
     }
    },
    {
     "data": {"name": "texts"},
     "transform": [{"filter": "datum.p == 'b' && datum.k == 'main'"}],
     "mark": {"type": "text", "align": "left", "baseline": "alphabetic", "font": "Liberation Sans", "fontSize": 35, "color": "black"},
     "encoding": {
      "x": {"field": "x", "type": "quantitative", "scale": {"domain": [0.7, 0.88], "nice": false, "zero": false}, "axis": null},
      "y": {"field": "q", "type": "quantitative", "scale": {"type": "log", "domain": [1e11, 2e13], "nice": false},
            "axis": {"orient": "right", "values": [2e11,3e11,4e11,5e11,6e11,7e11,8e11,9e11,2e12,3e12,4e12,5e12,6e12,7e12,8e12,9e12], "labels": false, "title": null, "domain": false, "grid": false, "tickSize": -5, "tickColor": "black", "tickWidth": 1.5}},
      "text": {"field": "t"}
     }
    },
    {
     "data": {"name": "texts"},
     "transform": [{"filter": "datum.p == 'b' && datum.k == 'sub'"}],
     "mark": {"type": "text", "align": "left", "baseline": "alphabetic", "font": "Liberation Sans", "fontSize": 24, "color": "black"},
     "encoding": {
      "x": {"field": "x", "type": "quantitative", "scale": {"domain": [0.7, 0.88], "nice": false, "zero": false}, "axis": null},
      "y": {"field": "q", "type": "quantitative", "scale": {"type": "log", "domain": [1e11, 2e13], "nice": false}, "axis": null},
      "text": {"field": "t"}
     }
    },
    {
     "data": {"name": "texts"},
     "transform": [{"filter": "datum.p == 'b' && datum.k == 'lab'"}],
     "mark": {"type": "text", "align": "left", "baseline": "alphabetic", "font": "Liberation Sans", "fontSize": 31, "color": "black"},
     "encoding": {
      "x": {"field": "x", "type": "quantitative", "scale": {"domain": [0.7, 0.88], "nice": false, "zero": false}, "axis": null},
      "y": {"field": "q", "type": "quantitative", "scale": {"type": "log", "domain": [1e11, 2e13], "nice": false}, "axis": null},
      "text": {"field": "t"}
     }
    }
   ]
  },
  {
   "width": 724, "height": 389,
   "resolve": {"axis": {"x": "independent", "y": "independent"}},
   "layer": [
    {
     "data": {"name": "curves"},
     "transform": [{"filter": "(datum.p == 'c' || datum.p == 'all') && datum.s != 'qd'"}],
     "mark": {"type": "line", "strokeWidth": 1.8, "color": "black"},
     "encoding": {
      "x": {"field": "x", "type": "quantitative", "scale": {"domain": [0.7, 0.88], "nice": false, "zero": false},
            "axis": {"orient": "bottom", "values": [0.7,0.725,0.75,0.775,0.8,0.825,0.85,0.875], "domain": false, "grid": false, "tickSize": -10, "tickColor": "black", "tickWidth": 1.5,
                     "labelExpr": "abs(datum.value*20 - round(datum.value*20)) < 0.01 ? format(datum.value, '.2f') : ''", "labelFont": "Liberation Serif", "labelFontSize": 30, "labelColor": "black", "labelPadding": 13, "labelFlush": false, "labelOverlap": false,
                     "title": "Band bending in c-Si (eV)", "titleFont": "Liberation Sans", "titleFontSize": 36, "titleFontWeight": "normal", "titleColor": "black", "titlePadding": 3}},
      "y": {"field": "q", "type": "quantitative", "scale": {"type": "log", "domain": [1e11, 2e13], "nice": false},
            "axis": {"orient": "left", "values": [1e11,1e12,1e13], "domain": false, "grid": false, "tickSize": -10, "tickColor": "black", "tickWidth": 1.5,
                     "labelExpr": "datum.value > 5e12 ? '10¹³' : datum.value > 5e11 ? '10¹²' : '10¹¹'", "labelFont": "Liberation Serif", "labelFontSize": 30, "labelColor": "black", "labelPadding": 12, "labelFlush": false, "labelOverlap": false,
                     "labelBaseline": {"condition": {"test": "datum.value < 2e11", "value": "alphabetic"}, "value": "middle"},
                     "title": "Q/q (cm⁻²)", "titleFont": "Liberation Sans", "titleFontSize": 37, "titleFontWeight": "normal", "titleColor": "black", "titlePadding": 22}},
      "detail": {"field": "g"},
      "strokeDash": {"field": "s", "type": "nominal", "legend": null,
                     "scale": {"domain": ["solid","fdot","sdash","ddot","dd","dot","ldash","dotc","qd"], "range": [[1,0],[1.5,3],[6,4],[9,3,2,3,2,3],[12,4,2,4],[2,8],[12,7],[1.5,3],[4,3]]}}
     }
    },
    {
     "data": {"name": "rules"},
     "transform": [{"filter": "datum.p == 'c' && datum.id == 'arr'"}],
     "mark": {"type": "rule", "color": "black", "strokeWidth": 1.2},
     "encoding": {
      "x": {"field": "x", "type": "quantitative", "scale": {"domain": [0.7, 0.88], "nice": false, "zero": false}, "axis": null},
      "x2": {"field": "x2"},
      "y": {"field": "q", "type": "quantitative", "scale": {"type": "log", "domain": [1e11, 2e13], "nice": false},
            "axis": {"orient": "right", "values": [1e11,1e12,1e13], "labels": false, "title": null, "domain": false, "grid": false, "tickSize": -10, "tickColor": "black", "tickWidth": 1.5}},
      "y2": {"field": "q2"}
     }
    },
    {
     "data": {"name": "rules"},
     "transform": [{"filter": "datum.p == 'c' && datum.id == 'guide'"}],
     "mark": {"type": "rule", "color": "#9a9a9a", "strokeWidth": 1},
     "encoding": {
      "x": {"field": "x", "type": "quantitative", "scale": {"domain": [0.7, 0.88], "nice": false, "zero": false}, "axis": null},
      "x2": {"field": "x2"},
      "y": {"field": "q", "type": "quantitative", "scale": {"type": "log", "domain": [1e11, 2e13], "nice": false}, "axis": null},
      "y2": {"field": "q2"}
     }
    },
    {
     "data": {"name": "rules"},
     "transform": [{"filter": "datum.p == 'c' && datum.id == 'meV'"}],
     "mark": {"type": "rule", "color": "#555555", "strokeWidth": 1.5},
     "encoding": {
      "x": {"field": "x", "type": "quantitative", "scale": {"domain": [0.7, 0.88], "nice": false, "zero": false}, "axis": null},
      "x2": {"field": "x2"},
      "y": {"field": "q", "type": "quantitative", "scale": {"type": "log", "domain": [1e11, 2e13], "nice": false}, "axis": null},
      "y2": {"field": "q2"}
     }
    },
    {
     "data": {"name": "heads"},
     "transform": [{"filter": "datum.p == 'c' && datum.id == 'arr'"}],
     "mark": {"type": "point", "shape": "M0,0L0.6,2L-0.6,2Z", "angle": 233, "size": 144, "filled": true, "color": "black", "opacity": 1},
     "encoding": {
      "x": {"field": "x", "type": "quantitative", "scale": {"domain": [0.7, 0.88], "nice": false, "zero": false}, "axis": null},
      "y": {"field": "q", "type": "quantitative", "scale": {"type": "log", "domain": [1e11, 2e13], "nice": false}, "axis": null}
     }
    },
    {
     "data": {"name": "heads"},
     "transform": [{"filter": "datum.p == 'c' && datum.id == 'meVL'"}],
     "mark": {"type": "point", "shape": "M0,0L0.6,2L-0.6,2Z", "angle": 270, "size": 64, "filled": true, "color": "black", "opacity": 1},
     "encoding": {
      "x": {"field": "x", "type": "quantitative", "scale": {"domain": [0.7, 0.88], "nice": false, "zero": false}, "axis": null},
      "y": {"field": "q", "type": "quantitative", "scale": {"type": "log", "domain": [1e11, 2e13], "nice": false}, "axis": null}
     }
    },
    {
     "data": {"name": "heads"},
     "transform": [{"filter": "datum.p == 'c' && datum.id == 'meVR'"}],
     "mark": {"type": "point", "shape": "M0,0L0.6,2L-0.6,2Z", "angle": 90, "size": 64, "filled": true, "color": "black", "opacity": 1},
     "encoding": {
      "x": {"field": "x", "type": "quantitative", "scale": {"domain": [0.7, 0.88], "nice": false, "zero": false}, "axis": null},
      "y": {"field": "q", "type": "quantitative", "scale": {"type": "log", "domain": [1e11, 2e13], "nice": false}, "axis": null}
     }
    },
    {
     "data": {"name": "dots"},
     "transform": [{"filter": "datum.p == 'c'"}],
     "mark": {"type": "point", "filled": true, "color": "#c8c8c8", "stroke": "#888888", "strokeWidth": 1, "size": 100, "opacity": 1},
     "encoding": {
      "x": {"field": "x", "type": "quantitative", "scale": {"domain": [0.7, 0.88], "nice": false, "zero": false},
            "axis": {"orient": "top", "values": [0.7,0.725,0.75,0.775,0.8,0.825,0.85,0.875], "labels": false, "title": null, "domain": false, "grid": false, "tickSize": -10, "tickColor": "black", "tickWidth": 1.5}},
      "y": {"field": "q", "type": "quantitative", "scale": {"type": "log", "domain": [1e11, 2e13], "nice": false},
            "axis": {"orient": "left", "values": [2e11,3e11,4e11,5e11,6e11,7e11,8e11,9e11,2e12,3e12,4e12,5e12,6e12,7e12,8e12,9e12], "labels": false, "title": null, "domain": false, "grid": false, "tickSize": -5, "tickColor": "black", "tickWidth": 1.5}}
     }
    },
    {
     "data": {"name": "texts"},
     "transform": [{"filter": "datum.p == 'c' && datum.k == 'main'"}],
     "mark": {"type": "text", "align": "left", "baseline": "alphabetic", "font": "Liberation Sans", "fontSize": 35, "color": "black"},
     "encoding": {
      "x": {"field": "x", "type": "quantitative", "scale": {"domain": [0.7, 0.88], "nice": false, "zero": false}, "axis": null},
      "y": {"field": "q", "type": "quantitative", "scale": {"type": "log", "domain": [1e11, 2e13], "nice": false},
            "axis": {"orient": "right", "values": [2e11,3e11,4e11,5e11,6e11,7e11,8e11,9e11,2e12,3e12,4e12,5e12,6e12,7e12,8e12,9e12], "labels": false, "title": null, "domain": false, "grid": false, "tickSize": -5, "tickColor": "black", "tickWidth": 1.5}},
      "text": {"field": "t"}
     }
    },
    {
     "data": {"name": "texts"},
     "transform": [{"filter": "datum.p == 'c' && datum.k == 'sub'"}],
     "mark": {"type": "text", "align": "left", "baseline": "alphabetic", "font": "Liberation Sans", "fontSize": 24, "color": "black"},
     "encoding": {
      "x": {"field": "x", "type": "quantitative", "scale": {"domain": [0.7, 0.88], "nice": false, "zero": false}, "axis": null},
      "y": {"field": "q", "type": "quantitative", "scale": {"type": "log", "domain": [1e11, 2e13], "nice": false}, "axis": null},
      "text": {"field": "t"}
     }
    },
    {
     "data": {"name": "texts"},
     "transform": [{"filter": "datum.p == 'c' && datum.k == 'sup'"}],
     "mark": {"type": "text", "align": "left", "baseline": "alphabetic", "font": "Liberation Sans", "fontSize": 21, "color": "black"},
     "encoding": {
      "x": {"field": "x", "type": "quantitative", "scale": {"domain": [0.7, 0.88], "nice": false, "zero": false}, "axis": null},
      "y": {"field": "q", "type": "quantitative", "scale": {"type": "log", "domain": [1e11, 2e13], "nice": false}, "axis": null},
      "text": {"field": "t"}
     }
    },
    {
     "data": {"name": "texts"},
     "transform": [{"filter": "datum.p == 'c' && datum.k == 'lab'"}],
     "mark": {"type": "text", "align": "left", "baseline": "alphabetic", "font": "Liberation Sans", "fontSize": 31, "color": "black"},
     "encoding": {
      "x": {"field": "x", "type": "quantitative", "scale": {"domain": [0.7, 0.88], "nice": false, "zero": false}, "axis": null},
      "y": {"field": "q", "type": "quantitative", "scale": {"type": "log", "domain": [1e11, 2e13], "nice": false}, "axis": null},
      "text": {"field": "t"}
     }
    },
    {
     "data": {"name": "texts"},
     "transform": [{"filter": "datum.p == 'c' && datum.k == 'note'"}],
     "mark": {"type": "text", "align": "left", "baseline": "alphabetic", "font": "Liberation Sans", "fontSize": 22, "color": "black"},
     "encoding": {
      "x": {"field": "x", "type": "quantitative", "scale": {"domain": [0.7, 0.88], "nice": false, "zero": false}, "axis": null},
      "y": {"field": "q", "type": "quantitative", "scale": {"type": "log", "domain": [1e11, 2e13], "nice": false}, "axis": null},
      "text": {"field": "t"}
     }
    }
   ]
  }
 ]
}
